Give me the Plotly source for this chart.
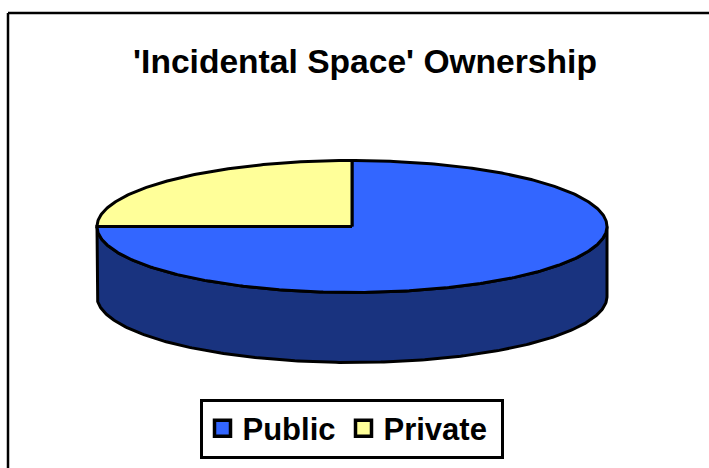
import numpy as np
import plotly.graph_objects as go

categories = ["Public", "Private"]
shares = [75, 25]
slice_colors = ["#3366FF", "#FFFF99"]
wall_colors = ["#19337F", "#7F7F4C"]
legend_widths = [96, 112]
chart_title = "'Incidental Space' Ownership"

WIDTH, HEIGHT = 709, 468
CENTER_X, CENTER_Y = 352, 226.5   # pie centre in page pixels
RADIUS_X, RADIUS_Y = 255, 66      # ellipse radii in page pixels
THICKNESS = 70                    # height of the pie wall in page pixels
OUTLINE = 3

# Axes carry a unit pie: x and y both run -1..1 over the ellipse radii.
x_range = [-CENTER_X / RADIUS_X, (WIDTH - CENTER_X) / RADIUS_X]
y_range = [(CENTER_Y - HEIGHT) / RADIUS_Y, CENTER_Y / RADIUS_Y]
depth = THICKNESS / RADIUS_Y

fractions = np.array(shares, dtype=float) / sum(shares)
# Slices run clockwise from twelve o'clock.
edges = np.pi / 2 - 2 * np.pi * np.concatenate([[0], np.cumsum(fractions)])


def arc(start, stop):
    steps = max(int(abs(stop - start) * 80), 2)
    t = np.linspace(start, stop, steps)
    return np.cos(t), np.sin(t)


fig = go.Figure()

# Wall: only the part of each slice facing the viewer (lower half of the ellipse).
for i in range(len(categories)):
    hi, lo = edges[i], edges[i + 1]
    for shift in (0, -2 * np.pi):
        a = min(hi + shift, 0.0)
        b = max(lo + shift, -np.pi)
        if a <= b:
            continue
        x, y = arc(a, b)
        fig.add_trace(go.Scatter(
            x=np.concatenate([x, x[::-1], x[:1]]),
            y=np.concatenate([y, y[::-1] - depth, y[:1]]),
            mode="lines", fill="toself", fillcolor=wall_colors[i],
            line=dict(color="black", width=OUTLINE),
            showlegend=False, hoverinfo="skip",
        ))

# Top face of the pie.
for i, name in enumerate(categories):
    x, y = arc(edges[i], edges[i + 1])
    fig.add_trace(go.Scatter(
        x=np.concatenate([[0], x, [0]]),
        y=np.concatenate([[0], y, [0]]),
        mode="lines", fill="toself", fillcolor=slice_colors[i],
        line=dict(color="black", width=OUTLINE),
        showlegend=False, name=name, hoverinfo="name",
    ))

# Legend keys.
for name, color, key_width in zip(categories, slice_colors, legend_widths):
    fig.add_trace(go.Scatter(
        x=[None], y=[None], mode="markers", name=name,
        legendwidth=key_width,
        marker=dict(symbol="square", size=16, color=color,
                    line=dict(color="black", width=3.5)),
    ))

fig.update_layout(
    width=WIDTH, height=HEIGHT,
    margin=dict(l=0, r=0, t=0, b=0),
    paper_bgcolor="white", plot_bgcolor="white",
    xaxis=dict(range=x_range, visible=False, fixedrange=True),
    yaxis=dict(range=y_range, visible=False, fixedrange=True),
    font=dict(family="Liberation Sans", color="black"),
    title=dict(
        text="<b>" + chart_title + "</b>",
        font=dict(size=33.6), x=365 / WIDTH, xanchor="center",
        y=1 - 61.5 / HEIGHT, yanchor="middle",
    ),
    legend=dict(
        orientation="h", x=199.5 / WIDTH, xanchor="left",
        y=1 - 398.5 / HEIGHT, yanchor="top",
        bgcolor="white", bordercolor="black", borderwidth=3,
        font=dict(size=31, weight="bold"), itemsizing="trace",
    ),
    shapes=[
        dict(type="line", xref="paper", yref="paper",
             x0=8 / WIDTH, x1=1, y0=1 - 13 / HEIGHT, y1=1 - 13 / HEIGHT,
             line=dict(color="black", width=2.5)),
        dict(type="line", xref="paper", yref="paper",
             x0=8 / WIDTH, x1=8 / WIDTH, y0=0, y1=1 - 13 / HEIGHT,
             line=dict(color="black", width=2.5)),
    ],
)

fig.write_html("out.html")
